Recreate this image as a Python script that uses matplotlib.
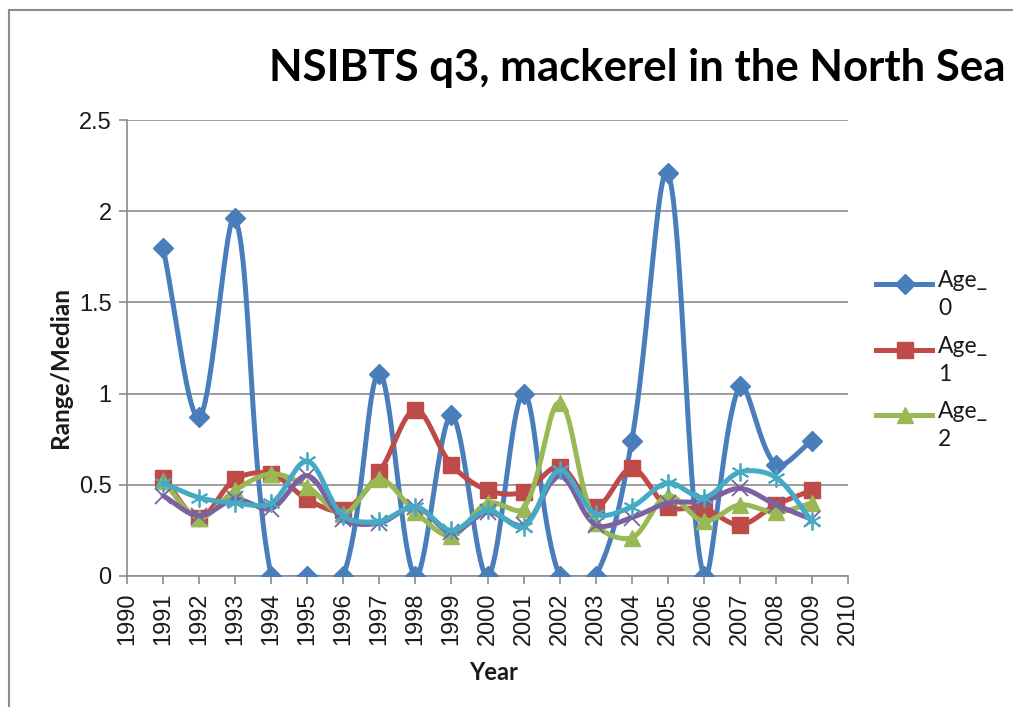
import numpy as np
import matplotlib
matplotlib.use("Agg")
import matplotlib.pyplot as plt
from matplotlib.lines import Line2D

# ---- data ----
years = [1991, 1992, 1993, 1994, 1995, 1996, 1997, 1998, 1999, 2000,
         2001, 2002, 2003, 2004, 2005, 2006, 2007, 2008, 2009]
age_0 = [1.80, 0.87, 1.96, 0.0, 0.0, 0.0, 1.11, 0.0, 0.88, 0.0,
         1.00, 0.0, 0.0, 0.74, 2.21, 0.0, 1.04, 0.61, 0.74]
age_1 = [0.54, 0.32, 0.53, 0.56, 0.42, 0.36, 0.57, 0.91, 0.61, 0.47,
         0.46, 0.60, 0.38, 0.59, 0.38, 0.37, 0.28, 0.39, 0.47]
age_2 = [0.52, 0.32, 0.47, 0.56, 0.49, 0.34, 0.53, 0.35, 0.22, 0.40,
         0.37, 0.95, 0.29, 0.21, 0.44, 0.30, 0.39, 0.35, 0.40]
age_3 = [0.44, 0.33, 0.42, 0.37, 0.55, 0.31, 0.29, 0.38, 0.24, 0.35,
         0.28, 0.55, 0.28, 0.32, 0.40, 0.41, 0.48, 0.39, 0.31]
age_4 = [0.51, 0.43, 0.40, 0.40, 0.63, 0.33, 0.30, 0.38, 0.25, 0.36,
         0.27, 0.58, 0.34, 0.38, 0.51, 0.43, 0.57, 0.54, 0.30]
series_names = ["Age_\n0", "Age_\n1", "Age_\n2", "Age_\n3", "Age_\n4"]
title = "NSIBTS q3, mackerel in the North Sea"
xlabel = "Year"
ylabel = "Range/Median"

colors = ["#4A7EBB", "#BE4B48", "#98B954", "#7D60A0", "#46AAC5"]
markers = ["D", "s", "^", "x", (6, 2, 0)]
msizes = [10, 11, 11, 11, 13]

W, H = 1013, 707
fig = plt.figure(figsize=(W / 100, H / 100), dpi=100)
ax_l, ax_r, ax_t, ax_b = 127, 848, 120, 576
ax = fig.add_axes([ax_l / W, 1 - ax_b / H, (ax_r - ax_l) / W, (ax_b - ax_t) / H])

xmin, xmax, ymin, ymax = 1990, 2010, 0, 2.5
ax.set_xlim(xmin, xmax)
ax.set_ylim(ymin, ymax)
sx = (ax_r - ax_l) / (xmax - xmin)
sy = (ax_b - ax_t) / (ymax - ymin)


def smooth(xs, ys, t=1 / 3, n=40):
    P = np.column_stack([np.asarray(xs, float) * sx, np.asarray(ys, float) * sy])
    out = []
    m = len(P)
    for i in range(m - 1):
        p0 = P[i - 1] if i > 0 else P[i]
        p1, p2 = P[i], P[i + 1]
        p3 = P[i + 2] if i + 2 < m else P[i + 1]
        d01 = np.linalg.norm(p1 - p0)
        d12 = np.linalg.norm(p2 - p1)
        d23 = np.linalg.norm(p3 - p2)
        c1 = p1 + t * (d12 / (d01 + d12)) * (p2 - p0) if d01 + d12 > 0 else p1
        c2 = p2 - t * (d12 / (d12 + d23)) * (p3 - p1) if d12 + d23 > 0 else p2
        s = np.linspace(0, 1, n)[:, None]
        seg = ((1 - s) ** 3) * p1 + 3 * ((1 - s) ** 2) * s * c1 + 3 * (1 - s) * s ** 2 * c2 + s ** 3 * p2
        out.append(seg if i == 0 else seg[1:])
    pts = np.vstack(out)
    return pts[:, 0] / sx, pts[:, 1] / sy


all_series = [age_0, age_1, age_2, age_3, age_4]
for k, vals in enumerate(all_series):
    xs_s, ys_s = smooth(years, vals)
    ax.plot(xs_s, ys_s, color=colors[k], lw=3.6, solid_capstyle="round", zorder=3 + k)
    mew = 1.3 if k >= 3 else 1
    ax.plot(years, vals, linestyle="none", marker=markers[k], ms=msizes[k],
            color=colors[k], mec=colors[k], mew=mew, zorder=3 + k)

ax.set_yticks(np.arange(0, 2.51, 0.5))
ax.set_yticklabels(["0", "0.5", "1", "1.5", "2", "2.5"], family="Liberation Sans")
ax.set_xticks(np.arange(1990, 2011, 1))
ax.set_xticklabels([str(y) for y in range(1990, 2011)], rotation=90, family="Liberation Sans")
ax.grid(axis="y", color="#8C8C8C", lw=1.2)
ax.set_axisbelow(True)
for s in ["top", "right"]:
    ax.spines[s].set_visible(False)
for s in ["left", "bottom"]:
    ax.spines[s].set_color("#8C8C8C")
    ax.spines[s].set_linewidth(1.2)
ax.tick_params(axis="both", colors="#8C8C8C", labelcolor="#1a1a1a", length=6, width=1.2,
               direction="out", labelsize=17)
ax.tick_params(axis="x", pad=6)
ax.tick_params(axis="y", pad=5)

fig.text(494 / W, 1 - 673 / H, xlabel, ha="center", va="center", fontsize=17,
         fontweight="bold", family="Lato", color="#1a1a1a")
fig.text(60 / W, 1 - 368 / H, ylabel, ha="center", va="center", rotation=90, fontsize=17.5,
         fontweight="bold", family="Lato", color="#1a1a1a")

fig.text(1005 / W, 1 - 68 / H, title, ha="right", va="center", fontsize=31.5,
         fontweight="bold", family="Lato")

# chart area border (left and top)
fig.add_artist(Line2D([9 / W, 9 / W], [0, 1 - 10 / H], transform=fig.transFigure,
                      color="#8C8C8C", lw=1.5))
fig.add_artist(Line2D([9 / W, 1.0], [1 - 10 / H, 1 - 10 / H], transform=fig.transFigure,
                      color="#8C8C8C", lw=1.5))

# legend (only first three entries visible)
leg_y = [284, 350, 415]
for k in range(3):
    yf = 1 - leg_y[k] / H
    fig.add_artist(Line2D([876 / W, 932 / W], [yf, yf], transform=fig.transFigure,
                          color=colors[k], lw=3.6))
    fig.add_artist(Line2D([905 / W], [yf], transform=fig.transFigure, marker=markers[k],
                          ms=msizes[k], color=colors[k], linestyle="none"))
    fig.text(938 / W, yf + 14 / H, series_names[k], ha="left", va="top", fontsize=16.5,
             linespacing=1.4, family="Lato", color="#1a1a1a")

fig.savefig("out.png", dpi=100)
